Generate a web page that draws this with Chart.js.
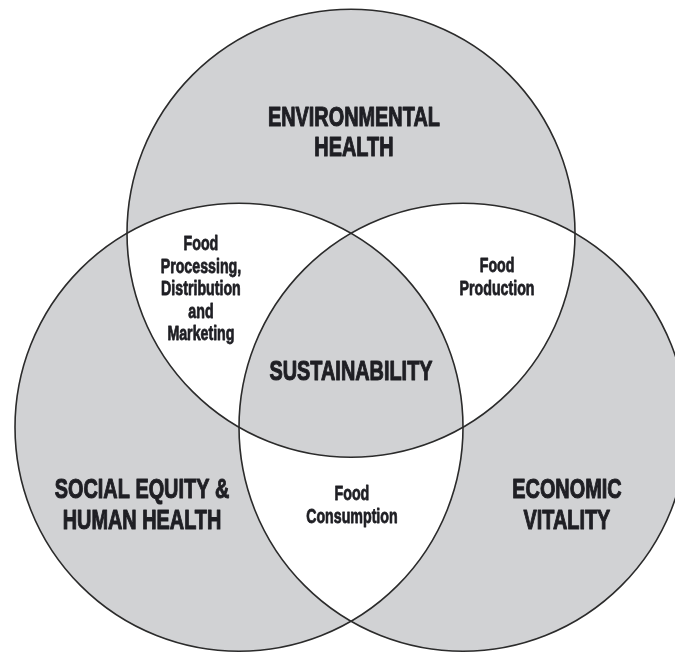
<!DOCTYPE html>
<html>
<head>
<meta charset="utf-8">
<script src="https://cdn.jsdelivr.net/npm/chart.js@4"></script>
<style>
  html, body { margin: 0; padding: 0; background: #fff; }
  #wrap { width: 675px; height: 653px; }
</style>
</head>
<body>
<div id="wrap"><canvas id="myChart"></canvas></div>
<script>
// the three circles, in units of one radius (centres form an equilateral triangle)
const circleNames = ['Environmental Health', 'Social Equity & Human Health', 'Economic Vitality'];
const centerX = [0, -0.5, 0.5];
const centerY = [0.577, -0.289, -0.289];
const circleRadius = [1, 1, 1];

// text of each region
const regionText = [
    ['ENVIRONMENTAL', 'HEALTH'],
    ['SOCIAL EQUITY &', 'HUMAN HEALTH'],
    ['ECONOMIC', 'VITALITY'],
    ['Food', 'Processing,', 'Distribution', 'and', 'Marketing'],
    ['Food', 'Production'],
    ['Food', 'Consumption'],
    ['SUSTAINABILITY']
];
// where the first line of each region label sits (same units as the circles)
const regionAnchorX = [0.013, -0.933, 0.964, -0.670, 0.652, 0.004, 0];
const regionAnchorY = [1.056, -0.605, -0.605, 0.502, 0.404, -0.614, -0.078];
const regionBig = [true, true, true, false, false, false, true];

const fillGray = '#d1d2d4';
const lineColor = '#2b2b2b';

const radiusPx = (chart, r) => {
    const s = chart.scales.x;
    return Math.abs(s.getPixelForValue(r) - s.getPixelForValue(0));
};

// single areas gray, pairs white, centre gray -> even-odd fill of all three
const vennFill = {
    id: 'vennFill',
    beforeDatasetsDraw(chart) {
        const ctx = chart.ctx;
        const x = chart.scales.x, y = chart.scales.y;
        ctx.save();
        ctx.beginPath();
        centerX.forEach((cx, i) => {
            const px = x.getPixelForValue(cx);
            const py = y.getPixelForValue(centerY[i]);
            const r = radiusPx(chart, circleRadius[i]);
            ctx.moveTo(px + r, py);
            ctx.arc(px, py, r, 0, Math.PI * 2);
        });
        ctx.fillStyle = fillGray;
        ctx.fill('evenodd');
        ctx.restore();
    }
};

const vennLabels = {
    id: 'vennLabels',
    afterDatasetsDraw(chart) {
        const ctx = chart.ctx;
        const x = chart.scales.x, y = chart.scales.y;
        ctx.save();
        ctx.fillStyle = '#1f1f24';
        ctx.strokeStyle = '#1f1f24';
        ctx.lineJoin = 'round';
        ctx.textAlign = 'center';
        ctx.textBaseline = 'alphabetic';
        regionText.forEach((lines, i) => {
            const big = regionBig[i];
            const px = x.getPixelForValue(regionAnchorX[i]);
            const py = y.getPixelForValue(regionAnchorY[i]);
            const step = big ? 30.5 : 22.5;
            ctx.font = big ? 'bold 28px "Liberation Sans"' : 'bold 20px "Liberation Sans"';
            ctx.lineWidth = big ? 1.1 : 0.8;
            lines.forEach((t, j) => {
                ctx.save();
                ctx.translate(px, py + j * step);
                ctx.scale(0.71, 1);
                ctx.fillText(t, 0, 0);
                ctx.strokeText(t, 0, 0);
                ctx.restore();
            });
        });
        ctx.restore();
    }
};

const ctx = document.getElementById('myChart');

new Chart(ctx, {
    type: 'scatter',
    data: {
        labels: circleNames,
        datasets: [{
            label: 'circles',
            data: centerX.map((v, i) => ({ x: v, y: centerY[i] })),
            pointRadius: (c) => radiusPx(c.chart, circleRadius[c.dataIndex] || 1),
            pointHoverRadius: (c) => radiusPx(c.chart, circleRadius[c.dataIndex] || 1),
            pointBackgroundColor: 'rgba(0,0,0,0)',
            pointBorderColor: lineColor,
            pointBorderWidth: 1.6,
            clip: false
        }]
    },
    options: {
        responsive: true,
        maintainAspectRatio: false,
        animation: false,
        events: [],
        layout: { padding: 0 },
        plugins: {
            legend: { display: false },
            tooltip: { enabled: false }
        },
        scales: {
            x: { type: 'linear', display: false, min: -1.567, max: 1.4464 },
            y: { type: 'linear', display: false, min: -1.2969, max: 1.6183 }
        }
    },
    plugins: [vennFill, vennLabels]
});
</script>
</body>
</html>
